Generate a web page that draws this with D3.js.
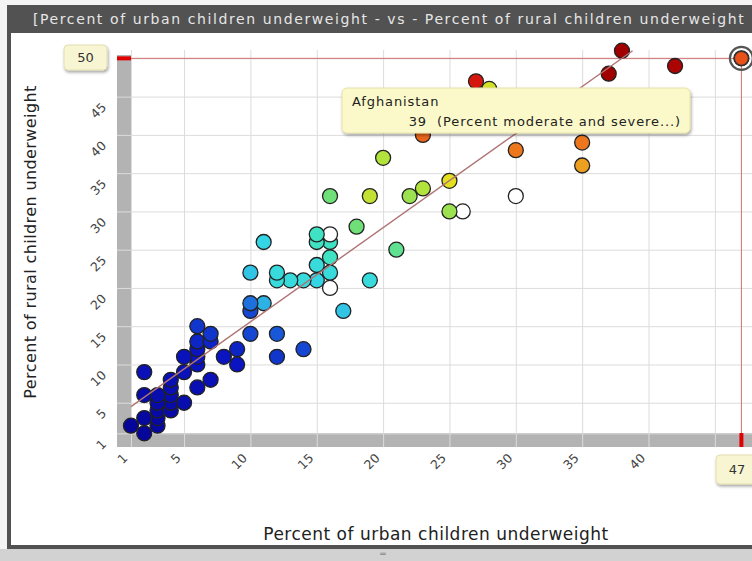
<!DOCTYPE html>
<html>
<head>
<meta charset="utf-8">
<script src="https://cdn.jsdelivr.net/npm/d3@7/dist/d3.min.js"></script>
<style>
  html, body { margin: 0; padding: 0; background: #ffffff; }
  svg { display: block; font-family: "DejaVu Sans", Verdana, sans-serif; }
</style>
</head>
<body>
<svg id="chart" width="752" height="561"></svg>
<script>
// ---- data ----
const titleText = "[Percent of urban children underweight - vs - Percent of rural children underweight";
const xTitle = "Percent of urban children underweight";
const yTitle = "Percent of rural children underweight";

// urban %, rural %, overall % (colour; null = no value)
const urban = [47,38,37,42,27,28,23,30,35,35,20,25,23,22,19,16,25,26,30,18,21,11,15,16,15,16,16,15,10,12,16,12,13,14,15,19,16,10,11,10,17,10,12,14,12,6,7,7,6,6,9,8,9,5,6,6,5,2,4,7,6,4,2,3,4,5,3,4,4,3,2,3,1,3,2];
const rural = [50,51,48,49,47,46,40,38,39,36,37,34,33,32,32,32,30,30,32,28,25,26,27,27,26,26,24,23,22,22,22,21,21,21,21,21,20,18,18,17,17,14,14,12,11,15,14,13,13,12,12,11,10,11,11,10,9,9,8,8,7,7,6,6,6,5,5,5,4,4,3,3,2,2,1];
const overall = [39,50,48,47,43,31,38,37,37,35,29,32,29,28,30,26,28,null,null,26,25,20,23,null,23,23,23,21,19,21,21,21,21,21,20,21,null,15,18,13,19,13,14,13,12,12,12,11,11,10,11,10,10,9,10,9,8,8,7,8,7,7,5,6,6,6,5,5,5,4,3,3,2,3,2];

const xTicks = [1,5,10,15,20,25,30,35,40,45];
const yTicks = [1,5,10,15,20,25,30,35,40,45,50];
const xDomain = [0, 47];
const yDomain = [0, 51];

// fitted trend line (urban -> rural)
const trendX = [1, 38.8];
const trendY = [4.5, 51];

// selected point
const selName = "Afghanistan";
const selValue = 39;
const selDesc = "(Percent moderate and severe...)";
const selX = 47, selY = 50;

const colorStops = [2, 10, 14, 17, 20, 23, 26, 29, 32, 36, 42, 48];
const colorRange = ["#06069a", "#0a14c0", "#1858d8", "#2aa0e4", "#34d6e6", "#40e2c4", "#6fe078", "#b2e23c", "#e4e020", "#f08a20", "#e01a10", "#a00000"];

// ---- chart ----
const svg = d3.select("#chart");
const x = d3.scaleLinear().domain(xDomain).range([117.7, 741.4]);
const y = d3.scaleLinear().domain(yDomain).range([441, 50.7]);
const color = d3.scaleLinear().domain(colorStops).range(colorRange).clamp(true);

// frame
svg.append("rect").attr("x", 0).attr("y", 0).attr("width", 752).attr("height", 561).attr("fill", "#f4f4f4");
svg.append("rect").attr("x", 7).attr("y", 5).attr("width", 745).attr("height", 544).attr("fill", "#525252");
svg.append("rect").attr("x", 11).attr("y", 33).attr("width", 741).attr("height", 512).attr("fill", "#ffffff");
svg.append("rect").attr("x", 0).attr("y", 549).attr("width", 752).attr("height", 12).attr("fill", "#d2d2d2");
svg.append("text").attr("x", 383).attr("y", 557).attr("text-anchor", "middle")
  .attr("font-size", 9).attr("fill", "#888").text("═");

svg.append("text").attr("x", 33).attr("y", 24)
  .attr("font-size", 14).attr("letter-spacing", 1.6).attr("fill", "#e6e6e6").text(titleText);

// gray axis bands
svg.append("rect").attr("x", 117).attr("y", 55).attr("width", 14).attr("height", 392).attr("fill", "#b3b3b3");
svg.append("rect").attr("x", 117).attr("y", 433).attr("width", 635).attr("height", 14).attr("fill", "#b3b3b3");

// axes with grid lines
const xAxis = svg.append("g").attr("transform", "translate(0,447)")
  .call(d3.axisBottom(x).tickValues(xTicks).tickSize(-397).tickFormat(d => d === 45 ? "" : d));
xAxis.select(".domain").remove();
xAxis.selectAll(".tick line").attr("stroke", "#dcdcdc").attr("stroke-width", 1);
xAxis.selectAll(".tick text").attr("x", 0).attr("y", 0).attr("dy", 0)
  .attr("transform", "translate(-3,12) rotate(-45)")
  .style("text-anchor", "end").attr("font-size", 12.5).attr("fill", "#444")
  .attr("font-family", "'DejaVu Sans', sans-serif");

const yAxis = svg.append("g").attr("transform", "translate(117,0)")
  .call(d3.axisLeft(y).tickValues(yTicks).tickSize(-635).tickFormat(d => d === 50 ? "" : d));
yAxis.select(".domain").remove();
yAxis.selectAll(".tick line").attr("stroke", "#dcdcdc").attr("stroke-width", 1);
yAxis.selectAll(".tick text").attr("x", 0).attr("y", 0).attr("dy", 0)
  .attr("transform", "translate(-10,11) rotate(-45)")
  .style("text-anchor", "end").attr("font-size", 12.5).attr("fill", "#444")
  .attr("font-family", "'DejaVu Sans', sans-serif");

// crosshair of selected point
svg.append("line").attr("x1", 117).attr("x2", x(selX)).attr("y1", y(selY)).attr("y2", y(selY))
  .attr("stroke", "#d07070").attr("stroke-width", 1);
svg.append("line").attr("x1", x(selX)).attr("x2", x(selX)).attr("y1", y(selY)).attr("y2", 447)
  .attr("stroke", "#d07070").attr("stroke-width", 1);
svg.append("line").attr("x1", 117).attr("x2", 131).attr("y1", y(selY)).attr("y2", y(selY))
  .attr("stroke", "#e00000").attr("stroke-width", 4);
svg.append("line").attr("x1", x(selX)).attr("x2", x(selX)).attr("y1", 433).attr("y2", 447)
  .attr("stroke", "#e00000").attr("stroke-width", 4);

// points
const pts = urban.map((u, i) => ({u, r: rural[i], c: overall[i]}));
svg.append("g").selectAll("circle").data(pts.slice().reverse()).join("circle")
  .attr("cx", d => x(d.u)).attr("cy", d => y(d.r)).attr("r", 7.5)
  .attr("fill", d => d.c == null ? "#ffffff" : color(d.c))
  .attr("stroke", "#222").attr("stroke-width", 1.3);

// trend line
svg.append("line").attr("x1", x(trendX[0])).attr("y1", y(trendY[0]))
  .attr("x2", x(trendX[1])).attr("y2", y(trendY[1]))
  .attr("stroke", "#b07474").attr("stroke-width", 1.4);

// selected ring
svg.append("circle").attr("cx", x(selX)).attr("cy", y(selY)).attr("r", 11.5)
  .attr("fill", "none").attr("stroke", "#555").attr("stroke-width", 2.2);
svg.append("circle").attr("cx", x(selX)).attr("cy", y(selY)).attr("r", 7)
  .attr("fill", color(selValue)).attr("stroke", "#333").attr("stroke-width", 1.3);

// tooltip
const defs = svg.append("defs");
const f = defs.append("filter").attr("id", "sh").attr("x", "-10%").attr("y", "-20%").attr("width", "130%").attr("height", "160%");
f.append("feDropShadow").attr("dx", 1).attr("dy", 2).attr("stdDeviation", 1.5).attr("flood-color", "#000").attr("flood-opacity", 0.35);

svg.append("rect").attr("x", 342).attr("y", 88).attr("width", 348).attr("height", 45).attr("rx", 5)
  .attr("fill", "#fbf9c9").attr("stroke", "#e6e2a8").attr("filter", "url(#sh)");
svg.append("text").attr("x", 352).attr("y", 106).attr("font-size", 13).attr("letter-spacing", 0.9)
  .attr("fill", "#222").text(selName);
svg.append("text").attr("x", 681).attr("y", 126).attr("text-anchor", "end").attr("font-size", 13)
  .attr("letter-spacing", 0.9).attr("fill", "#222")
  .attr("xml:space", "preserve").text(selValue + "  " + selDesc);

// value boxes
svg.append("rect").attr("x", 64).attr("y", 45).attr("width", 43).attr("height", 25).attr("rx", 4)
  .attr("fill", "#f8f6d2").attr("stroke", "#e2deb0").attr("filter", "url(#sh)");
svg.append("text").attr("x", 85.5).attr("y", 62).attr("text-anchor", "middle").attr("font-size", 13).attr("fill", "#333").text(selY);
svg.append("rect").attr("x", 716).attr("y", 455).attr("width", 42).attr("height", 29).attr("rx", 4)
  .attr("fill", "#f8f6d2").attr("stroke", "#e2deb0").attr("filter", "url(#sh)");
svg.append("text").attr("x", 737).attr("y", 474).attr("text-anchor", "middle").attr("font-size", 13).attr("fill", "#333").text(selX);

// axis titles
svg.append("text").attr("x", 436).attr("y", 540).attr("text-anchor", "middle")
  .attr("font-size", 17).attr("letter-spacing", 0.5).attr("fill", "#222").text(xTitle);
svg.append("text").attr("transform", "translate(36,242) rotate(-90)").attr("text-anchor", "middle")
  .attr("font-size", 16).attr("letter-spacing", 0.4).attr("fill", "#222").text(yTitle);
</script>
</body>
</html>
